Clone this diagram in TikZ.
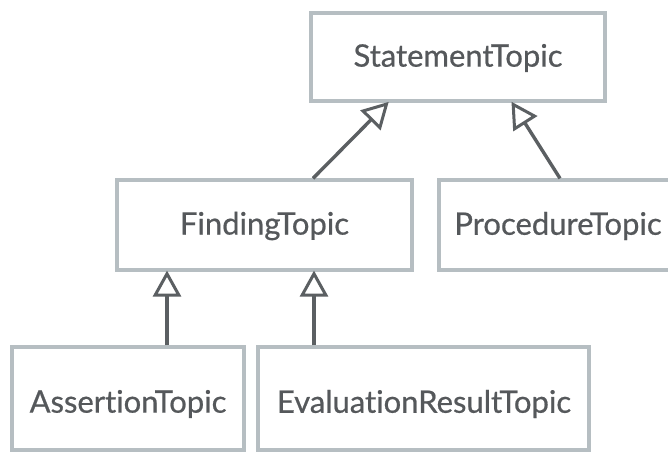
\documentclass[tikz,border=0pt]{standalone}
\usepackage{fontspec}
\setmainfont{Lato}
\newfontfamily\lblfont{Lato}[FakeBold=0.6, Ligatures={NoCommon}]
\usetikzlibrary{arrows.meta}
\definecolor{boxline}{HTML}{B6BEC2}
\definecolor{txt}{HTML}{55585B}
\definecolor{arr}{HTML}{5B5F62}
\tikzset{
  cls/.style={draw=boxline, line width=3.2pt, fill=white, inner sep=0pt},
  lbl/.style={text=txt, font=\lblfont\fontsize{31}{34}\selectfont, inner sep=0pt},
  inh/.style={draw=arr, line width=3.4pt, -{Triangle[open, fill=white, length=26pt, width=28pt, line width=3pt]}, shorten >=-1pt}
}
\begin{document}
\begin{tikzpicture}[x=1pt, y=-1pt]
\useasboundingbox (0,0) rectangle (668,452);
\clip (0,0) rectangle (668,452);
\fill[white] (0,0) rectangle (668,452);
% boxes
\node[cls, minimum width=294pt, minimum height=88pt] (stm) at (458,57) {};
\node[cls, minimum width=295pt, minimum height=90pt] (fnd) at (264.5,225) {};
\node[cls, minimum width=241pt, minimum height=90pt] (prc) at (559.5,225) {};
\node[cls, minimum width=232pt, minimum height=103pt] (ast) at (128,398.5) {};
\node[cls, minimum width=331pt, minimum height=103pt] (evr) at (423.5,398.5) {};
% labels
\node[lbl] (tstm) at (458,58) {StatementTopic};
\node[lbl] (tfnd) at (264.5,226) {FindingTopic};
\node[lbl] (tprc) at (558,226) {ProcedureTopic};
\node[lbl] (tast) at (128,404) {AssertionTopic};
\node[lbl] (tevr) at (424,404) {EvaluationResultTopic};
% connectors
\draw[inh] ([xshift=48.5pt]fnd.north) -- ([xshift=-70pt]stm.south);
\draw[inh] ([xshift=0.5pt]prc.north) -- ([xshift=54pt]stm.south);
\draw[inh] ([xshift=39pt]ast.north) -- ([xshift=-97.5pt]fnd.south);
\draw[inh] ([xshift=-109.5pt]evr.north) -- ([xshift=49.5pt]fnd.south);
\end{tikzpicture}
\end{document}
